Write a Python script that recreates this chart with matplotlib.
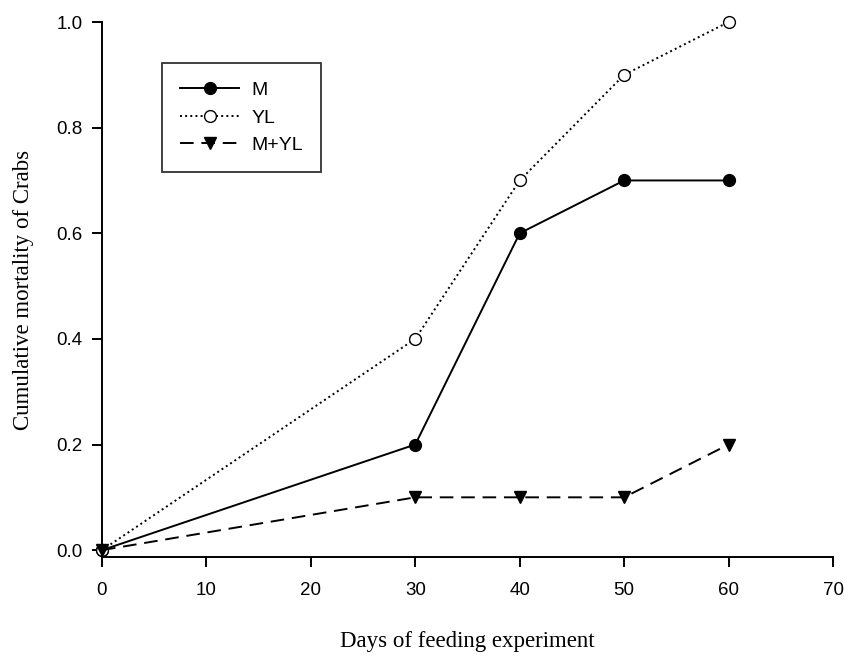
import matplotlib.pyplot as plt

days = [0, 30, 40, 50, 60]
m = [0.0, 0.2, 0.6, 0.7, 0.7]
yl = [0.0, 0.4, 0.7, 0.9, 1.0]
m_yl = [0.0, 0.1, 0.1, 0.1, 0.2]

x_ticks = [0, 10, 20, 30, 40, 50, 60, 70]
y_ticks = [0.0, 0.2, 0.4, 0.6, 0.8, 1.0]

fig = plt.figure(figsize=(8.45, 6.57), dpi=100)
ax = fig.add_axes([0.1207, 0.1522, 0.8651, 0.8143])

ax.plot(days, m, "-", color="black", lw=1.4, marker="o", ms=8.5,
        mfc="black", mec="black", label="M", clip_on=False)
ax.plot(days, yl, ":", color="black", lw=1.4, marker="o", ms=8.5,
        mfc="white", mec="black", label="YL", clip_on=False)
ax.plot(days, m_yl, "--", color="black", lw=1.4, marker="v", ms=9,
        mfc="black", mec="black", label="M+YL", clip_on=False, dashes=(7, 4))

ax.set_xlim(0, 70)
ax.set_ylim(-0.013, 1.0)
ax.set_xticks(x_ticks)
ax.set_yticks(y_ticks)
ax.set_xticklabels([str(t) for t in x_ticks])
ax.set_yticklabels([f"{t:.1f}" for t in y_ticks])

for side in ["top", "right"]:
    ax.spines[side].set_visible(False)
for side in ["left", "bottom"]:
    ax.spines[side].set_linewidth(1.4)
ax.tick_params(direction="out", length=7, width=1.4, labelsize=13.5)
ax.tick_params(axis="x", pad=11)
ax.tick_params(axis="y", pad=7)
for lbl in ax.get_xticklabels() + ax.get_yticklabels():
    lbl.set_fontfamily("Liberation Sans")

ax.set_xlabel("Days of feeding experiment", fontfamily="Liberation Serif",
              fontsize=16.5, labelpad=23)
ax.set_ylabel("Cumulative mortality of Crabs", fontfamily="Liberation Serif",
              fontsize=16.5, labelpad=16)

leg = ax.legend(loc="upper left", bbox_to_anchor=(0.082, 0.923), borderaxespad=0,
                frameon=True, fancybox=False, edgecolor="black", handlelength=3.0,
                handletextpad=0.65, prop={"family": "Liberation Sans", "size": 14},
                borderpad=0.95, labelspacing=0.5)
leg.get_frame().set_linewidth(1.3)

plt.savefig("out.png", dpi=100)
plt.close()
